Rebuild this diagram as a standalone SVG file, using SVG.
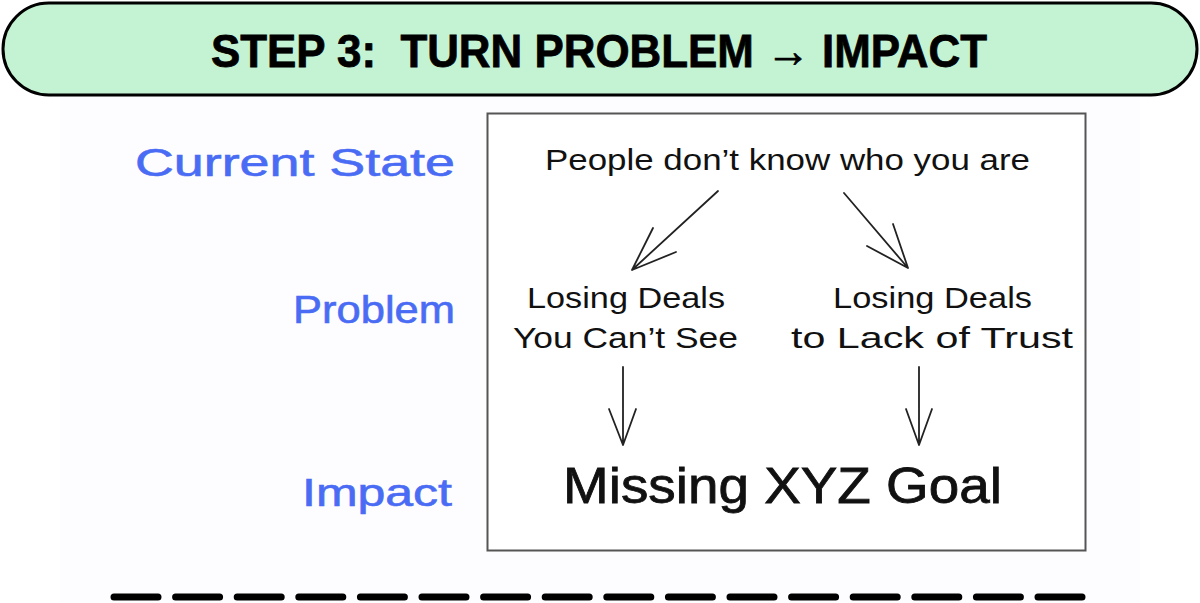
<svg xmlns="http://www.w3.org/2000/svg" width="1200" height="603" viewBox="0 0 1200 603">
<style>
.hand{font-family:"Liberation Sans","DejaVu Sans",sans-serif;fill:#111;}
.label{font-family:"Liberation Sans","DejaVu Sans",sans-serif;fill:#4a6cf4;stroke:#4a6cf4;stroke-width:0.6;font-size:38px;}
.conn{stroke:#222;stroke-width:1.8;fill:none;stroke-linecap:round;stroke-linejoin:round;}
</style>
<rect x="0" y="0" width="1200" height="603" fill="#ffffff"/>
<rect x="60" y="96" width="1080" height="507" fill="#fdfcfe"/>
<g id="header">
<rect x="3" y="3" width="1194" height="92" rx="46" ry="46" fill="#c4f3d4" stroke="#000" stroke-width="3"/>
<text x="599" y="67" text-anchor="middle" xml:space="preserve" style="white-space:pre" font-family="'Liberation Sans',Arial,sans-serif" font-weight="bold" font-size="47" textLength="776" lengthAdjust="spacingAndGlyphs" fill="#000" stroke="#000" stroke-width="0.8">STEP 3:  TURN PROBLEM → IMPACT</text>
</g>
<g id="labels">
<text id="label-current" class="label" x="135" y="176" textLength="320" lengthAdjust="spacingAndGlyphs">Current State</text>
<text id="label-problem" class="label" x="293" y="323" textLength="162" lengthAdjust="spacingAndGlyphs">Problem</text>
<text id="label-impact" class="label" x="302" y="506" textLength="150" lengthAdjust="spacingAndGlyphs">Impact</text>
</g>
<g id="frame">
<rect x="487.5" y="113.5" width="598" height="437" fill="#ffffff" stroke="#555" stroke-width="2"/>
</g>
<g id="node-current">
<text class="hand" x="545" y="170" font-size="30" textLength="485" lengthAdjust="spacingAndGlyphs">People don’t know who you are</text>
</g>
<g id="node-problem-left">
<text class="hand" x="527" y="308" font-size="29" textLength="198" lengthAdjust="spacingAndGlyphs">Losing Deals</text>
<text class="hand" x="513" y="348" font-size="29" textLength="225" lengthAdjust="spacingAndGlyphs">You Can’t See</text>
</g>
<g id="node-problem-right">
<text class="hand" x="833" y="308" font-size="29" textLength="199" lengthAdjust="spacingAndGlyphs">Losing Deals</text>
<text class="hand" x="791" y="348" font-size="29" textLength="282" lengthAdjust="spacingAndGlyphs">to Lack of Trust</text>
</g>
<g id="node-impact">
<text class="hand" x="563" y="503" font-size="50" textLength="439" lengthAdjust="spacingAndGlyphs" stroke="#111" stroke-width="0.8">Missing XYZ Goal</text>
</g>
<g id="connectors">
<path class="conn" d="M718 191 L632 270 M653 228 L632 270 L676 252"/>
<path class="conn" d="M844 193 L908 268 M893 224 L908 268 L867 246"/>
<path class="conn" d="M623 367 L623 445 M609 409 L623 445 L636 409"/>
<path class="conn" d="M919 367 L919 445 M906 409 L919 445 L932 409"/>
</g>
<g id="divider">
<line x1="114" y1="597" x2="1086" y2="597" stroke="#000" stroke-width="7" stroke-linecap="round" stroke-dasharray="44 17.6"/>
</g>
</svg>
